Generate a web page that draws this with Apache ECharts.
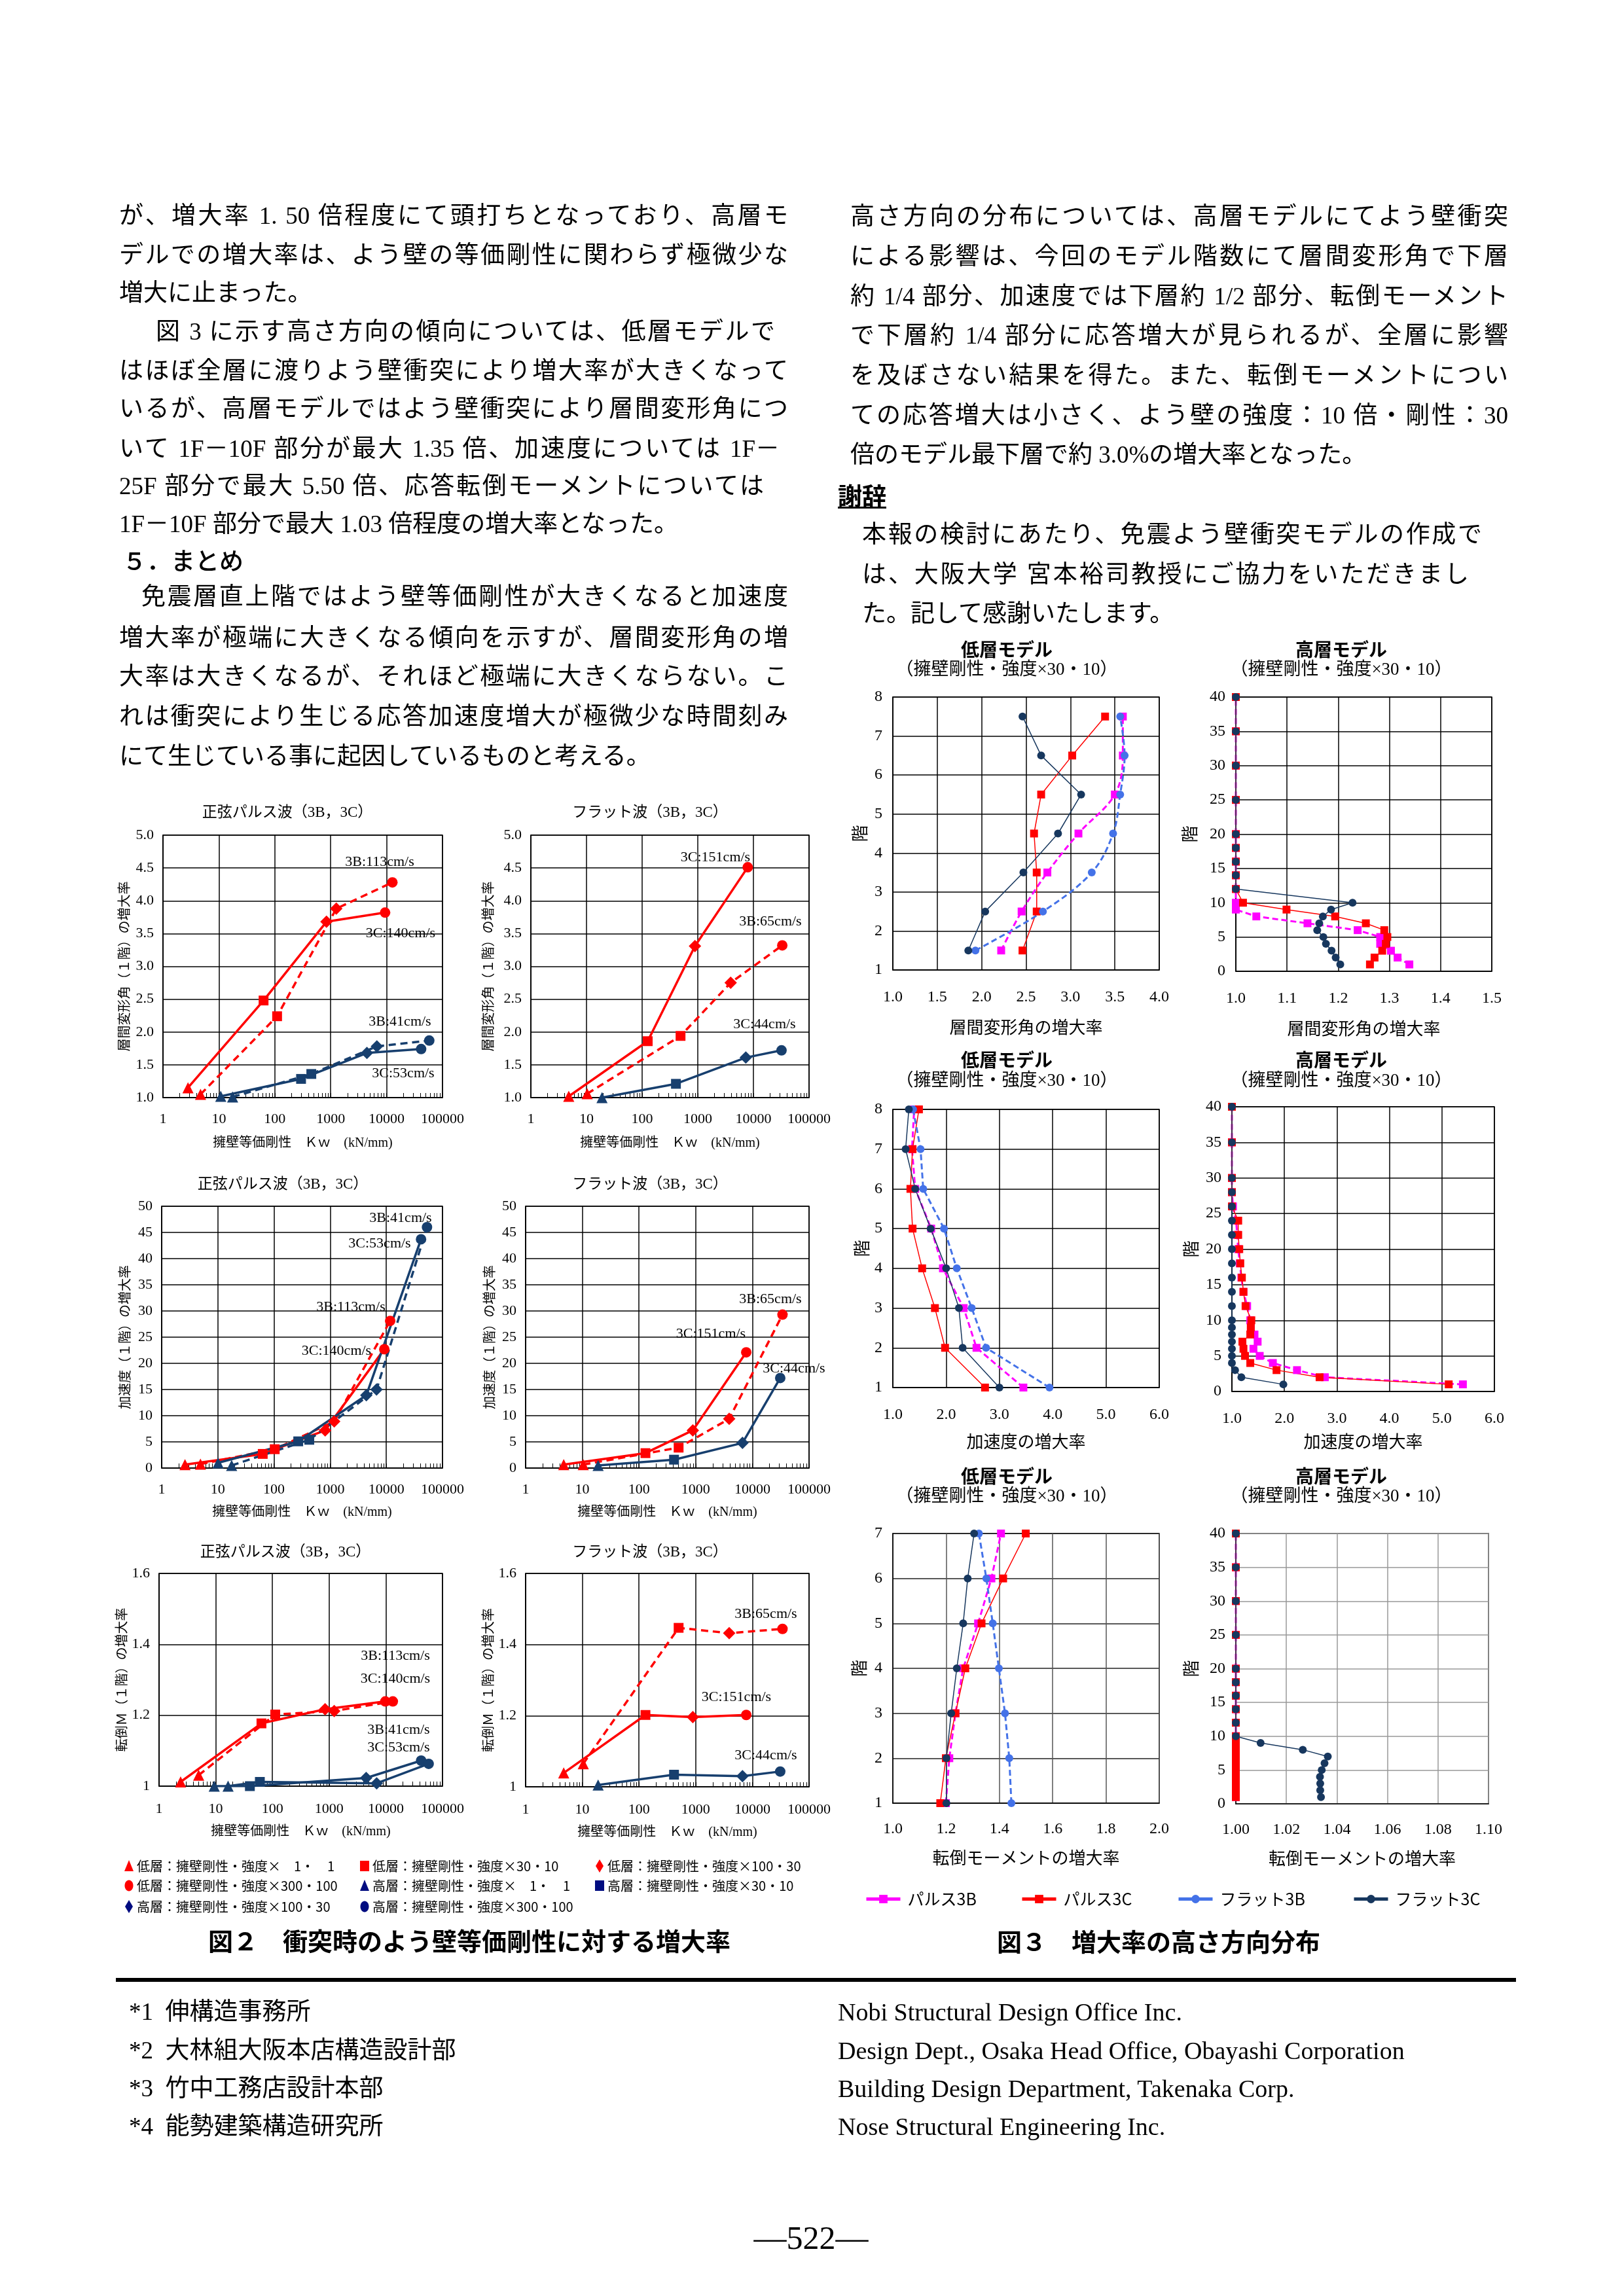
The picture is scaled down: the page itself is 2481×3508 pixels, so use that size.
<!DOCTYPE html>
<html lang="ja"><head><meta charset="utf-8">
<script src="https://cdn.jsdelivr.net/npm/echarts@6/dist/echarts.min.js"></script>
<style>
html,body{margin:0;padding:0;background:#fff;}
#page{position:relative;width:2481px;height:3508px;overflow:hidden;background:#fff;}
#chart{position:absolute;left:0;top:0;width:2481px;height:3508px;}
.ln{position:absolute;white-space:nowrap;font-family:'Liberation Serif','Noto Sans CJK JP',serif;font-size:37px;line-height:40px;height:40px;color:#000;}
.j{text-align:justify;text-align-last:justify;}
.g{font-family:'Noto Sans CJK JP',sans-serif;}
.ft{position:absolute;white-space:nowrap;font-family:'Liberation Serif','Noto Sans CJK JP',serif;font-size:37px;line-height:40px;height:40px;color:#000;}
.fe{font-size:38px;}
</style></head>
<body><div id="page"><div id="chart"></div>

<div class="ln j" style="left:182px;top:310px;width:1022px">が、増大率 1. 50 倍程度にて頭打ちとなっており、高層モ</div>
<div class="ln j" style="left:182px;top:370px;width:1022px">デルでの増大率は、よう壁の等価剛性に関わらず極微少な</div>
<div class="ln" style="left:182px;top:428px">増大に止まった。</div>
<div class="ln j" style="left:238px;top:487px;width:946px">図 3 に示す高さ方向の傾向については、低層モデルで</div>
<div class="ln j" style="left:182px;top:547px;width:1022px">はほぼ全層に渡りよう壁衝突により増大率が大きくなって</div>
<div class="ln j" style="left:182px;top:605px;width:1022px">いるが、高層モデルではよう壁衝突により層間変形角につ</div>
<div class="ln j" style="left:182px;top:666px;width:1009px">いて 1F－10F 部分が最大 1.35 倍、加速度については 1F－</div>
<div class="ln j" style="left:182px;top:723px;width:985px">25F 部分で最大 5.50 倍、応答転倒モーメントについては</div>
<div class="ln" style="left:182px;top:781px">1F－10F 部分で最大 1.03 倍程度の増大率となった。</div>
<div class="ln g" style="left:187px;top:835px;font-weight:500">５．まとめ</div>
<div class="ln j" style="left:216px;top:892px;width:988px">免震層直上階ではよう壁等価剛性が大きくなると加速度</div>
<div class="ln j" style="left:182px;top:955px;width:1022px">増大率が極端に大きくなる傾向を示すが、層間変形角の増</div>
<div class="ln j" style="left:182px;top:1014px;width:1022px">大率は大きくなるが、それほど極端に大きくならない。こ</div>
<div class="ln j" style="left:182px;top:1075px;width:1022px">れは衝突により生じる応答加速度増大が極微少な時間刻み</div>
<div class="ln" style="left:182px;top:1136px">にて生じている事に起因しているものと考える。</div>

<div class="ln j" style="left:1299px;top:311px;width:1005px">高さ方向の分布については、高層モデルにてよう壁衝突</div>
<div class="ln j" style="left:1299px;top:372px;width:1005px">による影響は、今回のモデル階数にて層間変形角で下層</div>
<div class="ln j" style="left:1299px;top:433px;width:1005px">約 1/4 部分、加速度では下層約 1/2 部分、転倒モーメント</div>
<div class="ln j" style="left:1299px;top:493px;width:1005px">で下層約 1/4 部分に応答増大が見られるが、全層に影響</div>
<div class="ln j" style="left:1299px;top:554px;width:1005px">を及ぼさない結果を得た。また、転倒モーメントについ</div>
<div class="ln j" style="left:1299px;top:615px;width:1005px">ての応答増大は小さく、よう壁の強度：10 倍・剛性：30</div>
<div class="ln" style="left:1299px;top:675px">倍のモデル最下層で約 3.0%の増大率となった。</div>
<div class="ln g" style="left:1280px;top:736px;font-weight:bold;text-decoration:underline">謝辞</div>
<div class="ln j" style="left:1317px;top:797px;width:947px">本報の検討にあたり、免震よう壁衝突モデルの作成で</div>
<div class="ln j" style="left:1317px;top:858px;width:927px">は、大阪大学 宮本裕司教授にご協力をいただきまし</div>
<div class="ln" style="left:1317px;top:918px">た。記して感謝いたします。</div>

<div style="position:absolute;left:177px;top:3022px;width:2139px;height:6px;background:#000"></div>
<div class="ft" style="left:197px;top:3054px">*1&nbsp;&nbsp;伸構造事務所</div>
<div class="ft" style="left:197px;top:3113px">*2&nbsp;&nbsp;大林組大阪本店構造設計部</div>
<div class="ft" style="left:197px;top:3171px">*3&nbsp;&nbsp;竹中工務店設計本部</div>
<div class="ft" style="left:197px;top:3229px">*4&nbsp;&nbsp;能勢建築構造研究所</div>
<div class="ft fe" style="left:1280px;top:3054px">Nobi Structural Design Office Inc.</div>
<div class="ft fe" style="left:1280px;top:3113px">Design Dept., Osaka Head Office, Obayashi Corporation</div>
<div class="ft fe" style="left:1280px;top:3171px">Building Design Department, Takenaka Corp.</div>
<div class="ft fe" style="left:1280px;top:3229px">Nose Structural Engineering Inc.</div>
<div class="ft" style="left:1039px;top:3392px;width:400px;text-align:center;font-size:50px;height:54px;line-height:54px">―522―</div>
</div>

<script>
// ================= DATA =================
// ---- Fig.2 : amplification (1st floor) vs retaining-wall equivalent stiffness Kw (kN/mm)
// markers per point: stiffness/strength x1·1, x30·10, x100·30, x300·100
// (a) story drift, sine pulse
const f2a_low3C_kw = [2.8, 63, 840, 9400];      const f2a_low3C = [1.15, 2.48, 3.68, 3.82];
const f2a_low3B_kw = [4.7, 110, 1260, 12700];    const f2a_low3B = [1.05, 2.24, 3.88, 4.28];
const f2a_high3C_kw = [10.8, 295, 4450, 41500];  const f2a_high3C = [1.02, 1.285, 1.68, 1.74];
const f2a_high3B_kw = [17.6, 450, 6700, 58000];  const f2a_high3B = [1.01, 1.36, 1.78, 1.87];
// (b) story drift, flat wave
const f2b_low3C_kw = [4.8, 126, 890, 7900];      const f2b_low3C = [1.02, 1.86, 3.31, 4.51];
const f2b_low3B_kw = [10.3, 490, 3900, 33000];   const f2b_low3B = [1.06, 1.94, 2.75, 3.32];
const f2b_high3C_kw = [19, 405, 7300, 32000];    const f2b_high3C = [1.0, 1.21, 1.61, 1.72];
// (c) acceleration, sine pulse
const f2c_low3C_kw = [2.6, 63, 815, 9200];       const f2c_low3C = [0.66, 2.7, 7.2, 22.7];
const f2c_low3B_kw = [4.9, 103, 1180, 11700];    const f2c_low3B = [0.75, 3.6, 8.9, 28.1];
const f2c_high3C_kw = [10.1, 270, 4400, 41500];  const f2c_high3C = [1.0, 5.1, 13.9, 43.7];
const f2c_high3B_kw = [17.6, 425, 6700, 53000];  const f2c_high3B = [0.5, 5.4, 15.0, 46.0];
// (d) acceleration, flat wave
const f2d_low3C_kw = [4.7, 130, 890, 7800];      const f2d_low3C = [0.66, 2.85, 7.2, 22.1];
const f2d_low3B_kw = [10.4, 500, 3900, 34000];   const f2d_low3B = [0.66, 3.9, 9.4, 29.3];
const f2d_high3C_kw = [19, 415, 6700, 31000];    const f2d_high3C = [0.5, 1.6, 4.8, 17.2];
// (e) overturning moment, sine pulse
const f2e_low3C_kw = [2.4, 64, 850, 9800];       const f2e_low3C = [1.012, 1.177, 1.217, 1.239];
const f2e_low3B_kw = [5.0, 112, 1230, 13300];    const f2e_low3B = [1.031, 1.202, 1.212, 1.239];
const f2e_high3C_kw = [9.4, 40, 4500, 42000];    const f2e_high3C = [1.0, 1.0, 1.023, 1.072];
const f2e_high3B_kw = [16.5, 60, 6900, 57000];   const f2e_high3B = [1.0, 1.012, 1.008, 1.063];
// (f) overturning moment, flat wave
const f2f_low3C_kw = [4.7, 130, 890, 7800];      const f2f_low3C = [1.039, 1.202, 1.196, 1.202];
const f2f_low3B_kw = [10.4, 500, 3900, 34000];   const f2f_low3B = [1.065, 1.447, 1.432, 1.444];
const f2f_high3C_kw = [19, 415, 6700, 31000];    const f2f_high3C = [1.005, 1.034, 1.030, 1.043];

const f2_xTicks = [1, 10, 100, 1000, 10000, 100000];

// ---- Fig.3 : height distribution of amplification (x30·10 model)
const f3a_floor = [1.5, 2.5, 3.5, 4.5, 5.5, 6.5, 7.5];
const f3a_p3B = [2.22, 2.45, 2.74, 3.09, 3.50, 3.59, 3.59];
const f3a_p3C = [2.46, 2.62, 2.62, 2.59, 2.67, 3.02, 3.39];
const f3a_f3B = [1.93, 2.69, 3.24, 3.48, 3.56, 3.61, 3.56];
const f3a_f3C = [1.85, 2.04, 2.47, 2.86, 3.12, 2.67, 2.46];

const f3b_floor = [1, 2, 3, 4, 5, 6, 7, 8, 9, 10, 12, 14, 16, 18, 20, 25, 30, 35, 40];
const f3b_p3B = [1.339, 1.316, 1.303, 1.282, 1.282, 1.238, 1.14, 1.040, 1.0, 1.0, 1.0, 1.0, 1.0, 1.0, 1.0, 1.0, 1.0, 1.0, 1.0];
const f3b_p3C = [1.262, 1.271, 1.286, 1.293, 1.296, 1.290, 1.254, 1.194, 1.099, 1.014, 1.0, 1.0, 1.0, 1.0, 1.0, 1.0, 1.0, 1.0, 1.0];
const f3b_f3C = [1.204, 1.195, 1.187, 1.176, 1.171, 1.159, 1.163, 1.170, 1.186, 1.228, 1.0, 1.0, 1.0, 1.0, 1.0, 1.0, 1.0, 1.0, 1.0];

const f3c_floor = [1, 2, 3, 4, 5, 6, 7, 8];
const f3c_p3B = [3.45, 2.57, 2.33, 1.94, 1.72, 1.42, 1.36, 1.40];
const f3c_p3C = [2.73, 1.98, 1.79, 1.55, 1.37, 1.33, 1.37, 1.49];
const f3c_f3B = [3.94, 2.75, 2.48, 2.20, 1.96, 1.57, 1.52, 1.38];
const f3c_f3C = [3.00, 2.31, 2.24, 2.00, 1.71, 1.42, 1.24, 1.30];

const f3d_floor = [1, 2, 3, 4, 5, 6, 7, 8, 9, 10, 12, 14, 16, 18, 20, 22, 24, 26, 28, 30, 35, 40];
const f3d_p3B = [5.40, 2.77, 2.24, 1.78, 1.53, 1.41, 1.49, 1.43, 1.36, 1.35, 1.29, 1.22, 1.18, 1.15, 1.12, 1.10, 1.08, 1.02, 1.0, 1.0, 1.0, 1.0];
const f3d_p3C = [5.13, 2.67, 1.85, 1.35, 1.25, 1.22, 1.20, 1.35, 1.36, 1.37, 1.26, 1.22, 1.19, 1.16, 1.14, 1.12, 1.12, 1.0, 1.0, 1.0, 1.0, 1.0];
const f3d_f3C = [1.98, 1.18, 1.06, 1.0, 1.0, 1.0, 1.0, 1.0, 1.0, 1.0, 1.0, 1.0, 1.0, 1.0, 1.0, 1.0, 1.0, 1.0, 1.0, 1.0, 1.0, 1.0];

const f3e_floor = [1, 2, 3, 4, 5, 6, 7];
const f3e_p3B = [1.199, 1.212, 1.235, 1.264, 1.320, 1.370, 1.406];
const f3e_p3C = [1.178, 1.199, 1.235, 1.272, 1.333, 1.414, 1.499];
const f3e_f3B = [1.445, 1.437, 1.421, 1.398, 1.375, 1.351, 1.323];
const f3e_f3C = [1.201, 1.201, 1.219, 1.240, 1.264, 1.281, 1.305];

const f3f_floor = [1, 2, 3, 4, 5, 6, 7, 8, 9, 10, 12, 14, 16, 18, 20, 25, 30, 35, 40];
const f3f_p3B = [1.0, 1.0, 1.0, 1.0, 1.0, 1.0, 1.0, 1.0, 1.0, 1.0, 1.0, 1.0, 1.0, 1.0, 1.0, 1.0, 1.0, 1.0, 1.0];
const f3f_p3C = [1.0, 1.0, 1.0, 1.0, 1.0, 1.0, 1.0, 1.0, 1.0, 1.0, 1.0, 1.0, 1.0, 1.0, 1.0, 1.0, 1.0, 1.0, 1.0];
const f3f_f3C = [1.0337, 1.0334, 1.0334, 1.0333, 1.0340, 1.0351, 1.0364, 1.0265, 1.0098, 1.0, 1.0, 1.0, 1.0, 1.0, 1.0, 1.0, 1.0, 1.0, 1.0];

const f3_names = ['パルス3B', 'パルス3C', 'フラット3B', 'フラット3C'];

// ================= STYLE / LAYOUT =================
const SERIF = "'Liberation Serif','Noto Sans CJK JP'";
const GOTH = "'Noto Sans CJK JP'";
const RED = '#FF0000', NAVY = '#173F6E', LEGNAVY = '#000C80';
const F2_SYM = ['triangle', 'rect', 'diamond', 'circle'];
const F2_SIZE = [17, 15, 19, 16];
const F3_STYLE = {
  'パルス3B': {color: '#FF00FF', symbol: 'rect', size: 12, width: 3, type: [9, 5]},
  'パルス3C': {color: '#FF0000', symbol: 'rect', size: 12, width: 1.5, type: 'solid'},
  'フラット3B': {color: '#4472E8', symbol: 'circle', size: 12, width: 3, type: [9, 5]},
  'フラット3C': {color: '#17375E', symbol: 'circle', size: 12, width: 1.5, type: 'solid'}
};

const GRIDS = [
  {left: 249, top: 1276, width: 427, height: 401},
  {left: 811, top: 1276, width: 425, height: 401},
  {left: 247, top: 1843, width: 429, height: 400},
  {left: 803, top: 1843, width: 433, height: 400},
  {left: 243, top: 2404, width: 433, height: 325},
  {left: 803, top: 2404, width: 433, height: 326},
  {left: 1364, top: 1065, width: 407, height: 417},
  {left: 1888, top: 1065, width: 391, height: 419},
  {left: 1364, top: 1695, width: 407, height: 425},
  {left: 1882, top: 1691, width: 401, height: 435},
  {left: 1364, top: 2343, width: 407, height: 412},
  {left: 1888, top: 2343, width: 386, height: 413}
];

const grid = GRIDS.map(g => Object.assign({show: true, borderColor: '#000', borderWidth: 1.5, containLabel: false, outerBoundsMode: 'none'}, g));

const xAxis = [], yAxis = [];

function f2x(gi, nameGap, margin) {
  xAxis.push({
    type: 'log', logBase: 10, min: f2_xTicks[0], max: f2_xTicks[f2_xTicks.length - 1], gridIndex: gi,
    name: '擁壁等価剛性　Ｋｗ　(kN/mm)', nameLocation: 'middle', nameGap, nameMoveOverlap: false,
    nameTextStyle: {fontSize: 20, fontFamily: SERIF, color: '#000'},
    axisLine: {show: true, lineStyle: {color: '#000', width: 1.5}},
    axisTick: {show: true, inside: true, length: 7, lineStyle: {color: '#000'}},
    minorTick: {show: true, splitNumber: 9, length: 7, lineStyle: {color: '#000', width: 1}},
    axisLabel: {fontSize: 22, fontFamily: SERIF, color: '#000', margin, formatter: v => String(Math.round(v))},
    splitLine: {show: true, lineStyle: {color: '#000', width: 1.5}},
    minorSplitLine: {show: false}
  });
}
function f2y(gi, min, max, interval, dec, name, nameGap) {
  yAxis.push({
    type: 'value', min, max, interval, gridIndex: gi,
    name, nameLocation: 'middle', nameGap, nameRotate: 90, nameMoveOverlap: false,
    nameTextStyle: {fontSize: 20, fontFamily: GOTH, color: '#000'},
    axisLine: {show: true, lineStyle: {color: '#000', width: 1.5}},
    axisTick: {show: false},
    axisLabel: {fontSize: 22, fontFamily: SERIF, color: '#000', margin: 14,
      formatter: v => dec === null ? String(+v.toFixed(2)) : v.toFixed(dec)},
    splitLine: {show: true, lineStyle: {color: '#000', width: 1.5}}
  });
}
function f3x(gi, min, max, interval, dec, name, margin, nameGap, gridColor) {
  xAxis.push({
    type: 'value', min, max, interval, gridIndex: gi,
    name, nameLocation: 'middle', nameGap, nameMoveOverlap: false,
    nameTextStyle: {fontSize: 26, fontFamily: GOTH, color: '#000'},
    axisLine: {show: true, lineStyle: {color: '#000', width: 1.5}},
    axisTick: {show: false},
    axisLabel: {fontSize: 24, fontFamily: SERIF, color: '#000', margin, formatter: v => v.toFixed(dec)},
    splitLine: {show: true, lineStyle: {color: gridColor, width: 1.5}}
  });
}
function f3y(gi, min, max, interval, nameGap, gridColor) {
  yAxis.push({
    type: 'value', min, max, interval, gridIndex: gi,
    name: '階', nameLocation: 'middle', nameGap, nameRotate: 90, nameMoveOverlap: false,
    nameTextStyle: {fontSize: 26, fontFamily: GOTH, color: '#000'},
    axisLine: {show: true, lineStyle: {color: '#000', width: 1.5}},
    axisTick: {show: false},
    axisLabel: {fontSize: 24, fontFamily: SERIF, color: '#000', margin: 16, formatter: v => String(Math.round(v))},
    splitLine: {show: true, lineStyle: {color: gridColor, width: 1.5}}
  });
}

// Fig.2 axes
f2x(0, 60, 22); f2y(0, 1, 5, 0.5, 1, '層間変形角（１階）の増大率', 50);
f2x(1, 60, 22); f2y(1, 1, 5, 0.5, 1, '層間変形角（１階）の増大率', 56);
f2x(2, 58, 22); f2y(2, 0, 50, 5, 0, '加速度（１階）の増大率', 47);
f2x(3, 58, 22); f2y(3, 0, 50, 5, 0, '加速度（１階）の増大率', 46);
f2x(4, 60, 24); f2y(4, 1, 1.6, 0.2, null, '転倒Ｍ（１階）の増大率', 48);
f2x(5, 60, 24); f2y(5, 1, 1.6, 0.2, null, '転倒Ｍ（１階）の増大率', 48);
// Fig.3 axes
f3x(6, 1, 4, 0.5, 1, '層間変形角の増大率', 30, 74, '#000');    f3y(6, 1, 8, 1, 38, '#000');
f3x(7, 1, 1.5, 0.1, 1, '層間変形角の増大率', 30, 74, '#000');  f3y(7, 0, 40, 5, 58, '#000');
f3x(8, 1, 6, 1, 1, '加速度の増大率', 30, 69, '#000');          f3y(8, 1, 8, 1, 35, '#000');
f3x(9, 1, 6, 1, 1, '加速度の増大率', 30, 63, '#000');          f3y(9, 0, 40, 5, 50, '#000');
f3x(10, 1, 2, 0.2, 1, '転倒モーメントの増大率', 28, 70, '#555'); f3y(10, 1, 7, 1, 39, '#222');
f3x(11, 1, 1.1, 0.02, 2, '転倒モーメントの増大率', 28, 70, '#999'); f3y(11, 0, 40, 5, 56, '#999');

const series = [];
function f2line(gi, kw, vals, color, dashed) {
  series.push({
    type: 'line', xAxisIndex: gi, yAxisIndex: gi, z: 3,
    data: kw.map((k, i) => ({value: [k, vals[i]], symbol: F2_SYM[i], symbolSize: F2_SIZE[i]})),
    showSymbol: true, lineStyle: {color, width: 3.5, type: dashed ? [11, 7] : 'solid'},
    itemStyle: {color}, emphasis: {disabled: true}
  });
}
f2line(0, f2a_low3C_kw, f2a_low3C, RED, false);
f2line(0, f2a_low3B_kw, f2a_low3B, RED, true);
f2line(0, f2a_high3C_kw, f2a_high3C, NAVY, false);
f2line(0, f2a_high3B_kw, f2a_high3B, NAVY, true);
f2line(1, f2b_low3C_kw, f2b_low3C, RED, false);
f2line(1, f2b_low3B_kw, f2b_low3B, RED, true);
f2line(1, f2b_high3C_kw, f2b_high3C, NAVY, false);
f2line(2, f2c_low3C_kw, f2c_low3C, RED, false);
f2line(2, f2c_low3B_kw, f2c_low3B, RED, true);
f2line(2, f2c_high3C_kw, f2c_high3C, NAVY, false);
f2line(2, f2c_high3B_kw, f2c_high3B, NAVY, true);
f2line(3, f2d_low3C_kw, f2d_low3C, RED, false);
f2line(3, f2d_low3B_kw, f2d_low3B, RED, true);
f2line(3, f2d_high3C_kw, f2d_high3C, NAVY, false);
f2line(4, f2e_low3C_kw, f2e_low3C, RED, false);
f2line(4, f2e_low3B_kw, f2e_low3B, RED, true);
f2line(4, f2e_high3C_kw, f2e_high3C, NAVY, false);
f2line(4, f2e_high3B_kw, f2e_high3B, NAVY, false);
f2line(5, f2f_low3C_kw, f2f_low3C, RED, false);
f2line(5, f2f_low3B_kw, f2f_low3B, RED, true);
f2line(5, f2f_high3C_kw, f2f_high3C, NAVY, false);

function f3line(gi, name, floors, vals, smooth) {
  const st = F3_STYLE[name];
  series.push({
    type: 'line', name, xAxisIndex: gi, yAxisIndex: gi, z: 3,
    data: floors.map((f, i) => [vals[i], f]),
    symbol: st.symbol, symbolSize: st.size, showSymbol: true, smooth: smooth ? 0.35 : false,
    lineStyle: {color: st.color, width: st.width, type: st.type},
    itemStyle: {color: st.color}, emphasis: {disabled: true}
  });
}
f3line(6, f3_names[0], f3a_floor, f3a_p3B, true);
f3line(6, f3_names[1], f3a_floor, f3a_p3C, false);
f3line(6, f3_names[2], f3a_floor, f3a_f3B, true);
f3line(6, f3_names[3], f3a_floor, f3a_f3C, false);
f3line(7, f3_names[0], f3b_floor, f3b_p3B, false);
f3line(7, f3_names[1], f3b_floor, f3b_p3C, false);
f3line(7, f3_names[3], f3b_floor, f3b_f3C, false);
f3line(8, f3_names[0], f3c_floor, f3c_p3B, false);
f3line(8, f3_names[1], f3c_floor, f3c_p3C, false);
f3line(8, f3_names[2], f3c_floor, f3c_f3B, false);
f3line(8, f3_names[3], f3c_floor, f3c_f3C, false);
f3line(9, f3_names[0], f3d_floor, f3d_p3B, false);
f3line(9, f3_names[1], f3d_floor, f3d_p3C, false);
f3line(9, f3_names[3], f3d_floor, f3d_f3C, false);
f3line(10, f3_names[0], f3e_floor, f3e_p3B, false);
f3line(10, f3_names[1], f3e_floor, f3e_p3C, false);
f3line(10, f3_names[2], f3e_floor, f3e_f3B, false);
f3line(10, f3_names[3], f3e_floor, f3e_f3C, false);
f3line(11, f3_names[0], f3f_floor, f3f_p3B, false);
f3line(11, f3_names[1], f3f_floor, f3f_p3C, false);
f3line(11, f3_names[3], f3f_floor, f3f_f3C, false);

// Fig.3 legend (one component per item, placed like the original)
const F3_LEG_X = [1321, 1559, 1798, 2066];
const legend = f3_names.map((n, i) => ({
  data: [n], left: F3_LEG_X[i], top: 2889, padding: 0, itemGap: 0,
  itemWidth: 52, itemHeight: 16, selectedMode: false,
  lineStyle: {type: 'solid', width: 5},
  textStyle: {fontSize: 25, fontFamily: GOTH, color: '#000', padding: [0, 0, 0, 6]}
}));

// ---- text / annotation graphics
const graphic = [];
function txt(text, x, y, size, family, opts) {
  graphic.push({type: 'text', x, y, silent: true, z: 10,
    style: Object.assign({text, fontSize: size, fontFamily: family, fill: '#000', align: 'center', verticalAlign: 'middle'}, opts || {})});
}
// Fig.2 panel titles
[[439, 1242], [993, 1242], [432, 1810], [993, 1810], [436, 2372], [993, 2372]].forEach((p, i) => {
  txt(i % 2 === 0 ? '正弦パルス波（3B，3C）' : 'フラット波（3B，3C）', p[0], p[1], 23, SERIF);
});
// Fig.2 in-plot annotations
const F2_NOTES = [
  ['3B:113cm/s', 580, 1317], ['3C:140cm/s', 612, 1426], ['3B:41cm/s', 611, 1561], ['3C:53cm/s', 616, 1640],
  ['3C:151cm/s', 1093, 1310], ['3B:65cm/s', 1177, 1408], ['3C:44cm/s', 1168, 1565],
  ['3B:41cm/s', 612, 1861], ['3C:53cm/s', 580, 1900], ['3B:113cm/s', 536, 1997], ['3C:140cm/s', 514, 2064],
  ['3B:65cm/s', 1177, 1985], ['3C:151cm/s', 1086, 2038], ['3C:44cm/s', 1213, 2091],
  ['3B:113cm/s', 604, 2530], ['3C:140cm/s', 604, 2565], ['3B:41cm/s', 609, 2643], ['3C:53cm/s', 609, 2670],
  ['3B:65cm/s', 1170, 2466], ['3C:151cm/s', 1125, 2593], ['3C:44cm/s', 1170, 2682]
];
F2_NOTES.forEach(n => txt(n[0], n[1], n[2], 22, SERIF));

// Fig.2 legend
const F2_LEG = [
  ['triangle', RED, '低層：擁壁剛性・強度×　1・　1'],
  ['rect', RED, '低層：擁壁剛性・強度×30・10'],
  ['diamond', RED, '低層：擁壁剛性・強度×100・30'],
  ['circle', RED, '低層：擁壁剛性・強度×300・100'],
  ['triangle', LEGNAVY, '高層：擁壁剛性・強度×　1・　1'],
  ['rect', LEGNAVY, '高層：擁壁剛性・強度×30・10'],
  ['diamond', LEGNAVY, '高層：擁壁剛性・強度×100・30'],
  ['circle', LEGNAVY, '高層：擁壁剛性・強度×300・100']
];
const LEG_COL = [197, 557, 916], LEG_ROW = [2851, 2881, 2913];
F2_LEG.forEach((it, i) => {
  const cx = LEG_COL[i % 3], cy = LEG_ROW[Math.floor(i / 3)];
  const st = {fill: it[1]};
  if (it[0] === 'triangle') graphic.push({type: 'polygon', silent: true, shape: {points: [[cx, cy - 9], [cx + 7, cy + 8], [cx - 7, cy + 8]]}, style: st});
  if (it[0] === 'rect') graphic.push({type: 'rect', silent: true, shape: {x: cx - 7, y: cy - 8, width: 14, height: 16}, style: st});
  if (it[0] === 'diamond') graphic.push({type: 'polygon', silent: true, shape: {points: [[cx, cy - 10], [cx + 6, cy], [cx, cy + 10], [cx - 6, cy]]}, style: st});
  if (it[0] === 'circle') graphic.push({type: 'ellipse', silent: true, shape: {cx, cy, rx: 6.5, ry: 8.5}, style: st});
  txt(it[2], cx + 12, cy, 20, GOTH, {align: 'left'});
});
// Captions
txt('図２　衝突時のよう壁等価剛性に対する増大率', 717, 2966, 38, GOTH, {fontWeight: 'bold'});
txt('図３　増大率の高さ方向分布', 1770, 2967, 38, GOTH, {fontWeight: 'bold'});
// Fig.3 panel titles
[[992, 1024], [1619, 1652], [2255, 2287]].forEach(r => {
  [[1538, '低層モデル'], [2049, '高層モデル']].forEach(c => {
    txt(c[1], c[0], r[0], 28, GOTH, {fontWeight: 'bold'});
    txt('（擁壁剛性・強度×30・10）', c[0], r[1], 27, SERIF);
  });
});

const chart = echarts.init(document.getElementById('chart'), null, {renderer: 'canvas', width: 2481, height: 3508});
chart.setOption({
  animation: false,
  backgroundColor: 'transparent',
  textStyle: {fontFamily: GOTH},
  grid, xAxis, yAxis, series, legend, graphic
});
</script>
</body></html>
